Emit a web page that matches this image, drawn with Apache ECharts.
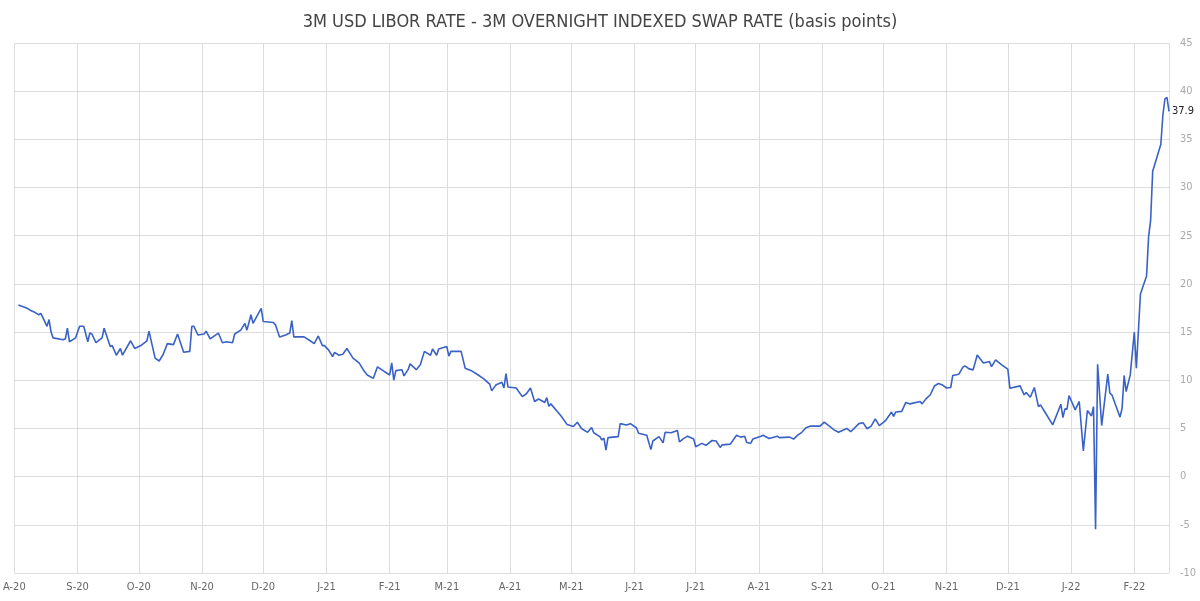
<!DOCTYPE html>
<html>
<head>
<meta charset="utf-8">
<script src="https://cdn.jsdelivr.net/npm/echarts@6/dist/echarts.min.js"></script>
<style>
html,body{margin:0;padding:0;background:#fff;}
#chart{width:1200px;height:601px;}
</style>
</head>
<body>
<div id="chart"></div>
<script>
const titleText = '3M USD LIBOR RATE - 3M OVERNIGHT INDEXED SWAP RATE (basis points)';
const monthLetters = ['J','F','M','A','M','J','J','A','S','O','N','D'];
const xMin = '2020-08-01';
const xMax = '2022-02-18';

const dates = [
'2020-08-03','2020-08-07','2020-08-09','2020-08-11','2020-08-13','2020-08-14','2020-08-15','2020-08-17','2020-08-18','2020-08-19',
'2020-08-20','2020-08-25','2020-08-26','2020-08-27','2020-08-28','2020-08-31','2020-09-02','2020-09-04','2020-09-06','2020-09-07',
'2020-09-08','2020-09-10','2020-09-13','2020-09-14','2020-09-17','2020-09-18','2020-09-20','2020-09-22','2020-09-23','2020-09-27',
'2020-09-29','2020-10-02','2020-10-05','2020-10-06','2020-10-09','2020-10-11','2020-10-13','2020-10-15','2020-10-18','2020-10-20',
'2020-10-23','2020-10-26','2020-10-27','2020-10-28','2020-10-30','2020-11-02','2020-11-03','2020-11-05','2020-11-09','2020-11-11',
'2020-11-13','2020-11-16','2020-11-17','2020-11-20','2020-11-22','2020-11-23','2020-11-25','2020-11-26','2020-11-30','2020-12-01',
'2020-12-06','2020-12-07','2020-12-09','2020-12-12','2020-12-14','2020-12-15','2020-12-16','2020-12-21','2020-12-24','2020-12-26',
'2020-12-28','2020-12-30','2020-12-31','2021-01-02','2021-01-04','2021-01-05','2021-01-07','2021-01-09','2021-01-11','2021-01-14',
'2021-01-17','2021-01-19','2021-01-21','2021-01-24','2021-01-26','2021-01-28','2021-02-01','2021-02-02','2021-02-03','2021-02-04',
'2021-02-07','2021-02-08','2021-02-10','2021-02-11','2021-02-14','2021-02-16','2021-02-18','2021-02-21','2021-02-22','2021-02-24',
'2021-02-25','2021-03-01','2021-03-02','2021-03-03','2021-03-08','2021-03-10','2021-03-13','2021-03-16','2021-03-19','2021-03-22',
'2021-03-23','2021-03-25','2021-03-28','2021-03-29','2021-03-30','2021-03-31','2021-04-04','2021-04-07','2021-04-09','2021-04-11',
'2021-04-13','2021-04-15','2021-04-18','2021-04-19','2021-04-20','2021-04-21','2021-04-26','2021-04-29','2021-05-02','2021-05-04',
'2021-05-06','2021-05-09','2021-05-11','2021-05-12','2021-05-15','2021-05-16','2021-05-17','2021-05-18','2021-05-19','2021-05-24',
'2021-05-25','2021-05-28','2021-05-30','2021-06-02','2021-06-03','2021-06-07','2021-06-09','2021-06-10','2021-06-13','2021-06-15',
'2021-06-16','2021-06-19','2021-06-22','2021-06-23','2021-06-25','2021-06-27','2021-06-30','2021-07-01','2021-07-04','2021-07-06',
'2021-07-09','2021-07-11','2021-07-13','2021-07-14','2021-07-18','2021-07-21','2021-07-23','2021-07-25','2021-07-26','2021-07-28',
'2021-07-29','2021-08-02','2021-08-03','2021-08-06','2021-08-10','2021-08-11','2021-08-16','2021-08-18','2021-08-20','2021-08-22',
'2021-08-24','2021-08-26','2021-08-31','2021-09-02','2021-09-07','2021-09-09','2021-09-13','2021-09-15','2021-09-19','2021-09-21',
'2021-09-23','2021-09-25','2021-09-27','2021-09-29','2021-10-02','2021-10-05','2021-10-06','2021-10-07','2021-10-10','2021-10-12',
'2021-10-14','2021-10-19','2021-10-20','2021-10-22','2021-10-24','2021-10-26','2021-10-28','2021-10-30','2021-11-01','2021-11-03',
'2021-11-04','2021-11-07','2021-11-09','2021-11-10','2021-11-12','2021-11-14','2021-11-16','2021-11-19','2021-11-22','2021-11-23',
'2021-11-25','2021-11-28','2021-12-01','2021-12-02','2021-12-07','2021-12-09','2021-12-10','2021-12-12','2021-12-14','2021-12-16',
'2021-12-17','2021-12-19','2021-12-23','2021-12-27','2021-12-28','2021-12-29','2021-12-30','2021-12-31','2022-01-03','2022-01-05',
'2022-01-07','2022-01-09','2022-01-11','2022-01-12','2022-01-13','2022-01-14','2022-01-16','2022-01-19','2022-01-20','2022-01-21',
'2022-01-25','2022-01-26','2022-01-27','2022-01-28','2022-01-30','2022-02-01','2022-02-02','2022-02-04','2022-02-07','2022-02-08',
'2022-02-09','2022-02-10','2022-02-14','2022-02-15','2022-02-16','2022-02-17','2022-02-18'
];

const values = [
17.8,17.5,17.25,17.05,16.8,16.95,16.5,15.6,16.3,15.0,
14.4,14.2,14.3,15.4,14.0,14.4,15.6,15.6,14.0,14.9,
14.8,13.9,14.4,15.4,13.5,13.6,12.6,13.3,12.6,14.1,
13.3,13.6,14.1,15.1,12.3,12.0,12.7,13.8,13.7,14.8,
12.9,13.0,15.6,15.6,14.7,14.8,15.1,14.3,14.9,13.9,
14.0,13.9,14.8,15.2,15.9,15.2,16.8,15.9,17.45,16.1,
16.0,15.75,14.5,14.7,14.9,16.2,14.5,14.5,14.1,13.8,
14.6,13.6,13.6,13.15,12.45,12.9,12.6,12.7,13.3,12.3,
11.8,11.1,10.55,10.2,11.4,11.1,10.55,11.8,10.0,11.0,
11.1,10.45,11.1,11.7,11.1,11.6,13.0,12.6,13.25,12.6,
13.25,13.5,12.5,13.0,13.0,11.25,11.0,10.6,10.17,9.6,
8.9,9.5,9.8,9.2,10.7,9.3,9.2,8.3,8.6,9.2,
7.8,8.05,7.7,8.2,7.3,7.55,6.3,5.4,5.2,5.65,
5.0,4.6,5.1,4.55,4.15,3.8,4.0,2.75,4.05,4.15,
5.5,5.35,5.5,5.05,4.5,4.3,2.8,3.7,4.15,3.5,
4.6,4.55,4.8,3.6,3.95,4.2,3.9,3.1,3.45,3.25,
3.75,3.7,3.03,3.3,3.37,4.3,4.1,4.2,3.55,3.47,
3.9,4.2,4.3,3.95,4.2,4.05,4.1,3.9,4.3,4.6,
5.07,5.24,5.24,5.65,4.83,4.6,5.0,4.66,5.5,5.6,
4.97,5.24,6.0,5.3,5.8,6.7,6.26,6.7,6.77,7.7,
7.55,7.8,7.55,8.1,8.5,9.4,9.66,9.5,9.2,9.25,
10.5,10.63,11.36,11.5,11.18,11.08,12.63,11.8,11.94,11.42,
12.12,11.6,11.15,9.18,9.42,8.49,8.73,8.24,9.25,7.27,
7.45,6.76,5.37,7.52,6.13,7.03,7.0,8.42,6.93,7.8,
2.68,6.86,6.3,7.27,-5.45,11.67,5.3,10.63,8.66,8.49,
6.17,7.1,10.5,8.83,10.56,14.99,11.25,18.96,20.83,24.9,
26.6,31.7,34.5,37.5,39.2,39.35,37.9
];

const yMin = -10, yMax = 45, yStep = 5;

const seriesData = dates.map((d, i) => [d, values[i]]);
const FONT = "'DejaVu Sans Condensed','Liberation Sans Narrow',Roboto,sans-serif";

const chart = echarts.init(document.getElementById('chart'), null, {renderer: 'canvas'});
chart.setOption({
  animation: false,
  backgroundColor: '#ffffff',
  title: {
    text: titleText,
    left: 'center',
    top: 8,
    textStyle: {fontSize: 18, fontWeight: 'normal', color: '#444', fontFamily: FONT}
  },
  grid: {left: 12, right: 31, top: 43, bottom: 28},
  xAxis: {
    type: 'time',
    min: xMin,
    max: xMax,
    splitNumber: 19,
    minInterval: 28 * 86400000,
    maxInterval: 31 * 86400000,
    axisLine: {show: false},
    axisTick: {show: false},
    splitLine: {show: true, lineStyle: {color: '#dddddd', width: 1}},
    axisLabel: {
      color: '#666',
      fontSize: 11,
      fontFamily: FONT,
      margin: 9,
      hideOverlap: false,
      formatter: function (val) {
        const d = new Date(val);
        return monthLetters[d.getMonth()] + '-' + String(d.getFullYear()).slice(2);
      }
    }
  },
  yAxis: {
    type: 'value',
    position: 'right',
    min: yMin,
    max: yMax,
    interval: yStep,
    axisLine: {show: false},
    axisTick: {show: false},
    splitLine: {show: true, lineStyle: {color: '#dddddd', width: 1}},
    axisLabel: {color: '#aaa', fontSize: 11, fontFamily: FONT, margin: 11}
  },
  series: [{
    type: 'line',
    data: seriesData,
    showSymbol: false,
    symbol: 'none',
    lineStyle: {color: '#3a62c6', width: 1.6},
    itemStyle: {color: '#3a62c6'},
    endLabel: {
      show: true,
      color: '#222',
      fontSize: 11,
      fontFamily: FONT,
      distance: 3,
      formatter: function (p) { return p.value[1].toFixed(1); }
    }
  }]
});
</script>
</body>
</html>
